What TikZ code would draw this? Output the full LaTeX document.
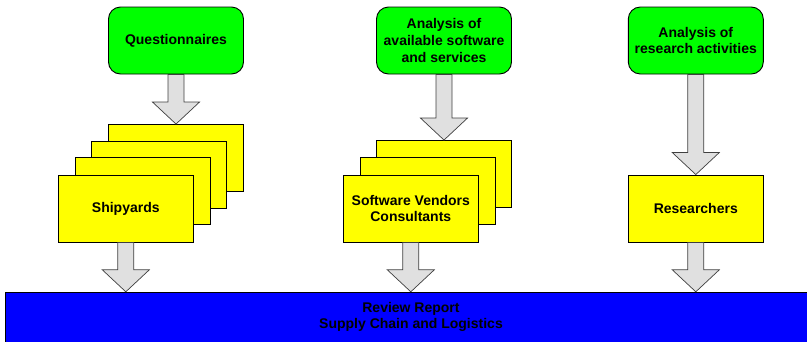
\documentclass[tikz,border=0pt]{standalone}
\usepackage{fontspec}
\setmainfont{Liberation Sans}
\usetikzlibrary{calc}
\newcommand{\fatarrow}[2]{\path[fatarrow] let \p1=(#1), \p2=(#2) in
	(\x1-8pt,\y1) -- (\x1+8pt,\y1) -- (\x1+8pt,\y2+22pt) -- (\x1+23.5pt,\y2+22pt)
	-- (\x1,\y2) -- (\x1-23.5pt,\y2+22pt) -- (\x1-8pt,\y2+22pt) -- cycle;}
\definecolor{green}{rgb}{0,1,0}
\definecolor{yellow}{rgb}{1,1,0}
\definecolor{blue}{rgb}{0,0,1}
\definecolor{arrowgray}{rgb}{0.88,0.88,0.88}

\begin{document}
\begin{tikzpicture}[x=1pt, y=-1pt,
	 font=\fontsize{14}{16.8}\selectfont\bfseries,
	 srcnode/.style={draw, line width=0.9pt, fill=green, rounded corners=12pt, align=center,
	 	minimum width=135pt, minimum height=67pt, inner sep=2pt},
	 cardnode/.style={draw, line width=0.9pt, fill=yellow, align=center,
	 	minimum width=135pt, minimum height=67pt, inner sep=2pt},
	 fatarrow/.style={draw=black!75, line width=0.7pt, fill=arrowgray}]
	\useasboundingbox (0,0) rectangle (807,341);
	% report bar, runs off the page at the bottom and right
	\draw[line width=0.9pt, fill=blue] (5,292) rectangle (817,360);
	\node (report) at (411,317) [minimum width=812pt, minimum height=50pt,
		align=center] {Review Report\\Supply Chain and Logistics};
	% sources
	\node (quest) at (176,40.5) [srcnode] {Questionnaires};
	\node (avail) at (444,40.5) [srcnode] {Analysis of\\available software\\and services};
	\node (resact) at (695.8,40.5) [srcnode] {Analysis of\\research activities};
	% stacked cards
	\node (ship4) at (176,158) [cardnode] {};
	\node (ship3) at (159.3,174.7) [cardnode] {};
	\node (ship2) at (142.6,191.4) [cardnode] {};
	\node (ship1) at (125.8,208.5) [cardnode] {Shipyards};
	\node (soft3) at (444.3,174) [cardnode] {};
	\node (soft2) at (427.6,191.4) [cardnode] {};
	\node (soft1) at (410.8,208.5) [cardnode] {Software Vendors\\Consultants};
	\node (res) at (695.8,208.5) [cardnode] {Researchers};
	% arrows
	\fatarrow{quest.south}{ship4.north}
	\fatarrow{avail.south}{soft3.north}
	\fatarrow{resact.south}{res.north}
	\fatarrow{ship1.south}{ship1.south |- report.north}
	\fatarrow{soft1.south}{soft1.south |- report.north}
	\fatarrow{res.south}{res.south |- report.north}
\end{tikzpicture}
\end{document}
